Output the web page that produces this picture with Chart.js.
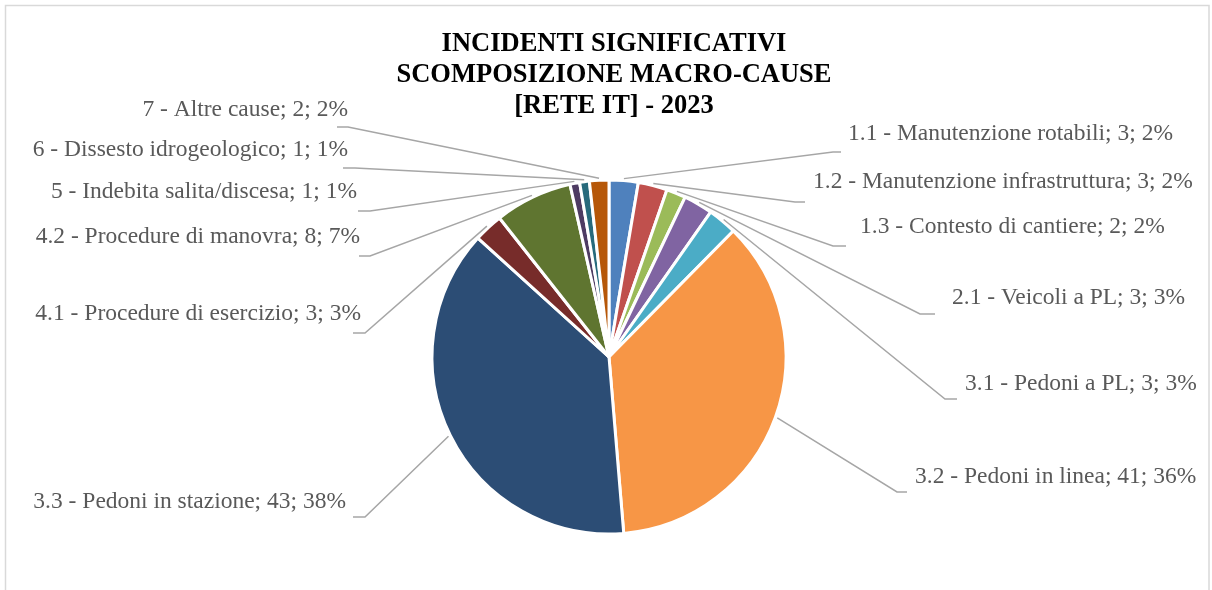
<!DOCTYPE html>
<html>
<head>
<meta charset="utf-8">
<script src="https://cdn.jsdelivr.net/npm/chart.js@4"></script>
<style>
  html, body { margin: 0; padding: 0; background: #fff; }
  canvas { display: block; }
</style>
</head>
<body>
<canvas id="torta" width="1212" height="590"></canvas>
<script>
// Dati del grafico
const titleLines = ['INCIDENTI SIGNIFICATIVI', 'SCOMPOSIZIONE MACRO-CAUSE', '[RETE IT] - 2023'];
const categories = [
    '1.1 - Manutenzione rotabili',
    '1.2 - Manutenzione infrastruttura',
    '1.3 - Contesto di cantiere',
    '2.1 - Veicoli a PL',
    '3.1 - Pedoni a PL',
    '3.2 - Pedoni in linea',
    '3.3 - Pedoni in stazione',
    '4.1 - Procedure di esercizio',
    '4.2 - Procedure di manovra',
    '5 - Indebita salita/discesa',
    '6 - Dissesto idrogeologico',
    '7 - Altre cause'
];
const counts = [3, 3, 2, 3, 3, 41, 43, 3, 8, 1, 1, 2];
const percents = [2, 2, 2, 3, 3, 36, 38, 3, 7, 1, 1, 2];

// Colori delle fette (tema Office)
const sliceColors = [
    '#4F81BD', '#C0504D', '#9BBB59', '#8064A2', '#4BACC6', '#F79646',
    '#2C4D75', '#772C2A', '#5F7530', '#4D3B62', '#276A7C', '#B65708'
];

// Posizione etichette: testo (tx, ty), gomito linea (ex, ey), fine tratto orizzontale (hx)
const labelLayout = [
    { align: 'left',  tx: 848, ty: 132, ex: 833, ey: 152, hx: 841 },
    { align: 'left',  tx: 813, ty: 180, ex: 795, ey: 202, hx: 805 },
    { align: 'left',  tx: 860, ty: 225, ex: 833, ey: 246, hx: 846 },
    { align: 'left',  tx: 952, ty: 296, ex: 920, ey: 314, hx: 935 },
    { align: 'left',  tx: 965, ty: 382, ex: 945, ey: 399, hx: 957 },
    { align: 'left',  tx: 915, ty: 475, ex: 897, ey: 492, hx: 907 },
    { align: 'right', tx: 346, ty: 500, ex: 365, ey: 517, hx: 353 },
    { align: 'right', tx: 361, ty: 312, ex: 365, ey: 333, hx: 353 },
    { align: 'right', tx: 360, ty: 235, ex: 370, ey: 256, hx: 359 },
    { align: 'right', tx: 357, ty: 190, ex: 370, ey: 211, hx: 358 },
    { align: 'right', tx: 348, ty: 148, ex: 355, ey: 168, hx: 343 },
    { align: 'right', tx: 348, ty: 108, ex: 348, ey: 127, hx: 337 }
];

const labelFont = '23.5px "Liberation Serif", "Times New Roman", serif';
const titleFont = 'bold 26.5px "Liberation Serif", "Times New Roman", serif';

// Cornice, titolo ed etichette con linee guida
const decorPlugin = {
    id: 'decor',
    beforeDraw(chart) {
        const ctx = chart.ctx;
        ctx.save();
        ctx.fillStyle = '#ffffff';
        ctx.fillRect(0, 0, chart.width, chart.height);
        ctx.strokeStyle = '#D9D9D9';
        ctx.lineWidth = 1.5;
        ctx.strokeRect(5.5, 5.5, 1203.5, 640);
        ctx.restore();
    },
    afterDatasetsDraw(chart) {
        const ctx = chart.ctx;
        const arcs = chart.getDatasetMeta(0).data;
        ctx.save();
        arcs.forEach((arc, i) => {
            const p = arc.getProps(['x', 'y', 'startAngle', 'endAngle', 'outerRadius'], true);
            const mid = (p.startAngle + p.endAngle) / 2;
            const r = p.outerRadius + 2;
            const L = labelLayout[i];

            ctx.strokeStyle = '#A6A6A6';
            ctx.lineWidth = 1.5;
            ctx.beginPath();
            ctx.moveTo(p.x + Math.cos(mid) * r, p.y + Math.sin(mid) * r);
            ctx.lineTo(L.ex, L.ey);
            ctx.lineTo(L.hx, L.ey);
            ctx.stroke();

            ctx.font = labelFont;
            ctx.fillStyle = '#595959';
            ctx.textAlign = L.align;
            ctx.textBaseline = 'alphabetic';
            ctx.fillText(categories[i] + '; ' + counts[i] + '; ' + percents[i] + '%', L.tx, L.ty + 8);
        });

        ctx.font = titleFont;
        ctx.fillStyle = '#000000';
        ctx.textAlign = 'center';
        titleLines.forEach((line, k) => {
            ctx.fillText(line, 614, 50.7 + k * 31);
        });
        ctx.restore();
    }
};

new Chart(document.getElementById('torta'), {
    type: 'pie',
    data: {
        labels: categories,
        datasets: [{
            data: counts,
            backgroundColor: sliceColors,
            borderColor: '#ffffff',
            borderWidth: 3
        }]
    },
    options: {
        responsive: false,
        animation: false,
        devicePixelRatio: 1,
        radius: 177,
        layout: {
            padding: { left: 206, right: 200, top: 150, bottom: 26 }
        },
        plugins: {
            legend: { display: false },
            tooltip: { enabled: false },
            title: { display: false }
        }
    },
    plugins: [decorPlugin]
});
</script>
</body>
</html>
